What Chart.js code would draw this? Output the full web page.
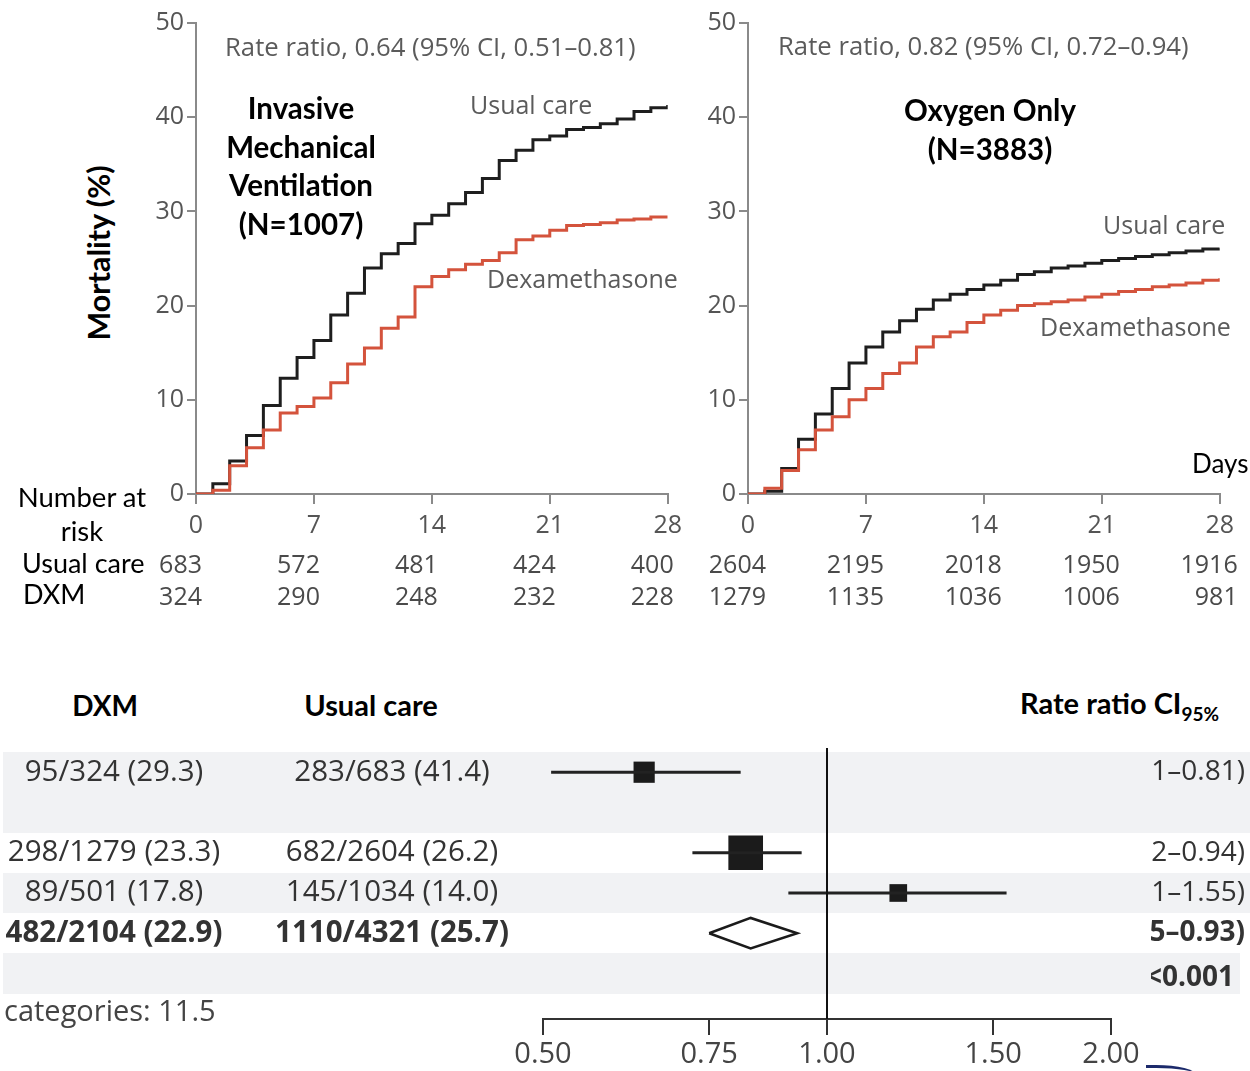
<!DOCTYPE html>
<html lang="en">
<head>
<meta charset="UTF-8">
<title>Dexamethasone - 28-day mortality</title>
<script src="https://cdn.jsdelivr.net/npm/chart.js"></script>
<style>
  body { margin: 0; background: #fff; }
  #page { position: relative; width: 1250px; height: 1071px; overflow: hidden; font-family: 'Open Sans', sans-serif; }
  canvas { position: absolute; }
  .t { position: absolute; white-space: nowrap; line-height: 1; }
  .cal { font-family: Lato, sans-serif; color: #000; }
  .b { font-weight: 700; }
  .gray { color: #5b5b5b; font-size: 25px; }
  .c { transform: translateX(-50%); text-align: center; }
</style>
</head>
<body>
<div id="page">
  <canvas id="kmLeft" width="544" height="616" style="left:145px; top:5px;"></canvas>
  <canvas id="kmRight" width="544" height="616" style="left:697px; top:5px;"></canvas>
  <canvas id="forest" width="1250" height="331" style="left:0; top:740px;"></canvas>

  <!-- text on the survival curves -->
  <div class="t gray" style="left:225px; top:34px; font-size:25.7px;">Rate ratio, 0.64 (95% CI, 0.51–0.81)</div>
  <div class="t gray" style="left:778px; top:33px; font-size:25.7px;">Rate ratio, 0.82 (95% CI, 0.72–0.94)</div>
  <div class="t gray" style="left:470px; top:92px;">Usual care</div>
  <div class="t gray" style="left:487px; top:266px;">Dexamethasone</div>
  <div class="t gray" style="left:1103px; top:212px;">Usual care</div>
  <div class="t gray" style="left:1040px; top:314px;">Dexamethasone</div>

  <div class="t cal b c" style="left:301px; top:89px; font-size:29.5px; line-height:38.5px;">Invasive<br>Mechanical<br>Ventilation<br>(N=1007)</div>
  <div class="t cal b c" style="left:990px; top:91px; font-size:29.5px; line-height:38.5px;">Oxygen Only<br>(N=3883)</div>
  <div class="t cal b" style="left:98px; top:253px; font-size:30.5px; transform:translate(-50%,-50%) rotate(-90deg);">Mortality (%)</div>
  <div class="t cal" style="left:1192px; top:450px; font-size:26px;">Days</div>

  <div class="t cal c" style="left:82px; top:480px; font-size:27.5px; line-height:34px;">Number at<br>risk</div>
  <div class="t cal" style="left:22px; top:549px; font-size:27px;">Usual care</div>
  <div class="t cal" style="left:23px; top:580px; font-size:27px;">DXM</div>

  <!-- forest plot headers -->
  <div class="t cal b c" style="left:105px; top:691px; font-size:28px;">DXM</div>
  <div class="t cal b c" style="left:371px; top:690px; font-size:29px;">Usual care</div>
  <div class="t cal b" style="left:1020px; top:688px; font-size:29px;">Rate ratio CI<sub style="font-size:19px;">95%</sub></div>
  <div class="t" style="left:4px; top:995px; font-size:29px; color:#444;">categories: 11.5</div>
  <div style="position:absolute; left:1146px; top:1065px; width:50px; height:10px; border-top:3px solid #1c2a6b; border-top-right-radius:40px 10px;"></div>
</div>

<script>
// Kaplan-Meier style cumulative mortality (%), one value per day from day 0 to day 28
const days = [0,1,2,3,4,5,6,7,8,9,10,11,12,13,14,15,16,17,18,19,20,21,22,23,24,25,26,27,28];
const imvUsual = [0,1.1,3.5,6.2,9.4,12.3,14.5,16.3,19.0,21.3,24.0,25.5,26.6,28.7,29.6,30.8,32.0,33.5,35.4,36.5,37.6,38.0,38.7,38.9,39.3,39.8,40.6,41.0,41.3];
const imvDxm = [0,0.4,3.0,4.9,6.8,8.6,9.3,10.2,11.8,13.8,15.5,17.6,18.8,22.0,23.1,23.8,24.4,24.8,25.6,27.0,27.4,28.0,28.5,28.6,28.8,29.1,29.2,29.4,29.4];
const oxyUsual = [0,0.3,2.7,5.8,8.5,11.2,13.9,15.6,17.2,18.4,19.6,20.6,21.2,21.7,22.2,22.7,23.3,23.6,24.0,24.2,24.5,24.8,25.0,25.2,25.4,25.6,25.8,26.0,26.1];
const oxyDxm = [0,0.6,2.5,4.7,6.8,8.2,10.0,11.2,12.8,13.9,15.6,16.7,17.2,18.2,19.0,19.5,20.0,20.2,20.4,20.6,20.9,21.2,21.5,21.7,22.0,22.2,22.4,22.7,22.9];

// number at risk
const riskDays = [0, 7, 14, 21, 28];
const imvRiskUsual = [683, 572, 481, 424, 400];
const imvRiskDxm = [324, 290, 248, 232, 228];
const oxyRiskUsual = [2604, 2195, 2018, 1950, 1916];
const oxyRiskDxm = [1279, 1135, 1036, 1006, 981];

// forest plot (rows from the top, row 1 is an empty line)
const forestRows = [0, 2, 3];
const rrEst = [0.64, 0.82, 1.19];
const rrLow = [0.51, 0.72, 0.91];
const rrHigh = [0.81, 0.94, 1.55];
const overallRow = 4;
const overallEst = 0.83, overallLow = 0.75, overallHigh = 0.93;
const rrTicks = [0.5, 0.75, 1.0, 1.5, 2.0];
const dxmCol = ['95/324 (29.3)', '', '298/1279 (23.3)', '89/501 (17.8)', '482/2104 (22.9)', ''];
const usualCol = ['283/683 (41.4)', '', '682/2604 (26.2)', '145/1034 (14.0)', '1110/4321 (25.7)', ''];
const ciCol = ['0.64 (0.51–0.81)', '', '0.82 (0.72–0.94)', '1.19 (0.91–1.55)', '0.83 (0.75–0.93)', 'P<0.001'];
const boldRows = [4, 5];
const shadedBands = [[0, 1], [3, 3], [5, 5]];

const axisGray = '#8a8a8a';
const tickFont = { family: 'Open Sans', size: 25 };

const riskPlugin = {
    id: 'risk',
    afterDraw(chart, args, opts) {
        const ctx = chart.ctx;
        const x = chart.scales.x;
        ctx.save();
        ctx.font = '25px "Open Sans"';
        ctx.fillStyle = '#4a4a4a';
        ctx.textAlign = 'right';
        ctx.textBaseline = 'middle';
        riskDays.forEach((d, i) => {
            const px = x.getPixelForValue(d) + opts.shift;
            ctx.fillText(String(opts.usual[i]), px, 561);
            ctx.fillText(String(opts.dxm[i]), px, 593);
        });
        ctx.restore();
    }
};

function kmChart(id, usual, dxm, riskUsual, riskDxm, shift) {
    return new Chart(document.getElementById(id), {
        type: 'line',
        data: {
            datasets: [
                {
                    label: 'Dexamethasone',
                    data: days.map((d, i) => ({ x: d, y: dxm[i] })),
                    borderColor: '#d4533c',
                    borderWidth: 3,
                    stepped: true,
                    pointRadius: 0,
                    fill: false
                },
                {
                    label: 'Usual care',
                    data: days.map((d, i) => ({ x: d, y: usual[i] })),
                    borderColor: '#1e1e1e',
                    borderWidth: 3,
                    stepped: true,
                    pointRadius: 0,
                    fill: false
                }
            ]
        },
        options: {
            responsive: false,
            animation: false,
            layout: { autoPadding: false, padding: { top: 16, right: 14, bottom: 82, left: 0 } },
            plugins: {
                legend: { display: false },
                tooltip: { enabled: false },
                risk: { usual: riskUsual, dxm: riskDxm, shift: shift }
            },
            scales: {
                x: {
                    type: 'linear', min: 0, max: 28,
                    ticks: { stepSize: 7, color: '#555', font: tickFont, padding: 7 },
                    grid: { drawOnChartArea: false, tickLength: 10, color: axisGray, lineWidth: 2 },
                    border: { color: axisGray, width: 2 },
                    afterFit(s) { s.height = 45; }
                },
                y: {
                    min: 0, max: 50,
                    ticks: { stepSize: 10, color: '#555', font: tickFont, padding: 3 },
                    grid: { drawOnChartArea: false, tickLength: 9, color: axisGray, lineWidth: 2 },
                    border: { color: axisGray, width: 2 },
                    afterFit(s) { s.width = 51; }
                }
            }
        },
        plugins: [riskPlugin]
    });
}

kmChart('kmLeft', imvUsual, imvDxm, imvRiskUsual, imvRiskDxm, 6);
kmChart('kmRight', oxyUsual, oxyDxm, oxyRiskUsual, oxyRiskDxm, 18);

// bands and table text of the forest plot
const forestTable = {
    id: 'forestTable',
    beforeDraw(chart) {
        const ctx = chart.ctx;
        const y = chart.scales.y;
        ctx.save();
        ctx.fillStyle = '#f1f2f4';
        shadedBands.forEach(([first, last]) => {
            const top = Math.round(y.getPixelForValue(first - 0.5));
            const bot = Math.round(y.getPixelForValue(last + 0.5));
            ctx.fillRect(3, top, first === 5 ? 1237 : 1247, bot - top);
        });
        ctx.restore();
    },
    afterDraw(chart) {
        const ctx = chart.ctx;
        const y = chart.scales.y;
        ctx.save();
        ctx.fillStyle = '#333';
        ctx.textBaseline = 'middle';
        dxmCol.forEach((txt, r) => {
            const bold = boldRows.includes(r) ? '700 ' : '';
            ctx.font = bold + '29.5px "Open Sans"';
            const py = y.getPixelForValue(r);
            ctx.textAlign = 'center';
            ctx.fillText(txt, 114, py);
            ctx.fillText(usualCol[r], 392, py);
        });
        // right column is cut on its left side
        ctx.beginPath();
        ctx.rect(1151, 0, 99, chart.height);
        ctx.clip();
        ciCol.forEach((txt, r) => {
            const bold = boldRows.includes(r) ? '700 ' : '';
            ctx.font = bold + '28px "Open Sans"';
            ctx.textAlign = 'right';
            ctx.fillText(txt, r === 5 ? 1234 : 1245, y.getPixelForValue(r) + (r === 5 ? 5 : 0));
        });
        ctx.restore();
    }
};

const diamondH = 0.38;
new Chart(document.getElementById('forest'), {
    type: 'scatter',
    data: {
        datasets: [
            {
                type: 'line',
                data: [{ x: 1, y: -0.6 }, { x: 1, y: 6.2 }],
                borderColor: '#111', borderWidth: 2, pointRadius: 0
            },
            ...forestRows.map((r, i) => ({
                type: 'line',
                data: [{ x: rrLow[i], y: r }, { x: rrHigh[i], y: r }],
                borderColor: '#222', borderWidth: 3, pointRadius: 0
            })),
            {
                data: forestRows.map((r, i) => ({ x: rrEst[i], y: r })),
                pointStyle: 'rect',
                pointRadius: [15, 24.5, 12.5],
                backgroundColor: '#1b1b1b',
                borderWidth: 0
            },
            {
                type: 'line',
                data: [
                    { x: overallLow, y: overallRow },
                    { x: overallEst, y: overallRow - diamondH },
                    { x: overallHigh, y: overallRow },
                    { x: overallEst, y: overallRow + diamondH },
                    { x: overallLow, y: overallRow }
                ],
                borderColor: '#1b1b1b', borderWidth: 2.5, pointRadius: 0,
                backgroundColor: '#fff', fill: false
            }
        ]
    },
    options: {
        responsive: false,
        animation: false,
        layout: { autoPadding: false, padding: { top: 0, right: 139, bottom: 0, left: 543 } },
        plugins: { legend: { display: false }, tooltip: { enabled: false } },
        scales: {
            x: {
                type: 'logarithmic', min: 0.5, max: 2,
                afterBuildTicks(s) { s.ticks = rrTicks.map(v => ({ value: v })); },
                ticks: { color: '#444', font: { family: 'Open Sans', size: 29 }, padding: 2, callback: v => Number(v).toFixed(2), autoSkip: false, maxRotation: 0 },
                grid: { drawOnChartArea: false, tickLength: 16, color: '#333', lineWidth: 2 },
                border: { color: '#333', width: 2 },
                afterFit(s) { s.height = 52; }
            },
            y: { type: 'linear', display: false, reverse: true, min: -0.8, max: 6.13 }
        }
    },
    plugins: [forestTable]
});
</script>
</body>
</html>
